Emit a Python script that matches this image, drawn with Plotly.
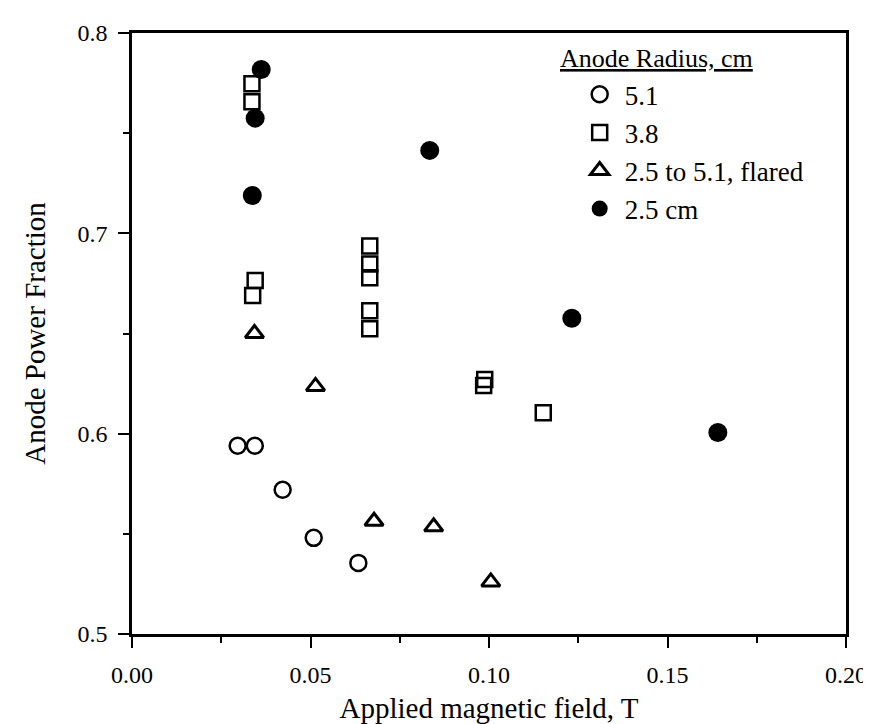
import plotly.graph_objects as go

# Anode radius 5.1 cm (open circles)
x_51 = [0.0296, 0.0344, 0.0422, 0.0509, 0.0634]
y_51 = [0.594, 0.594, 0.572, 0.548, 0.5355]

# Anode radius 3.8 cm (open squares)
x_38 = [0.0336, 0.0336, 0.0345, 0.0338, 0.0666, 0.0666, 0.0666, 0.0666, 0.0666, 0.0988, 0.0985, 0.1152]
y_38 = [0.7747, 0.7657, 0.6765, 0.669, 0.6937, 0.6847, 0.6778, 0.6614, 0.6524, 0.627, 0.624, 0.6105]

# 2.5 to 5.1 cm, flared (open triangles)
x_fl = [0.0343, 0.0514, 0.0678, 0.0845, 0.1005]
y_fl = [0.650, 0.6236, 0.5563, 0.5535, 0.526]

# 2.5 cm (filled circles)
x_25 = [0.0362, 0.0345, 0.0337, 0.0834, 0.1232, 0.1641]
y_25 = [0.7818, 0.7575, 0.7189, 0.7414, 0.6576, 0.6006]

x_ticks = [0.00, 0.05, 0.10, 0.15, 0.20]
x_labels = ["0.00", "0.05", "0.10", "0.15", "0.20"]
y_ticks = [0.5, 0.6, 0.7, 0.8]
y_labels = ["0.5", "0.6", "0.7", "0.8"]

FONT = "Liberation Serif"
line = dict(color="black", width=2.5)

fig = go.Figure()
fig.add_trace(go.Scatter(x=x_51, y=y_51, mode="markers", name="5.1",
                         marker=dict(symbol="circle-open", size=16, line=line, color="black")))
fig.add_trace(go.Scatter(x=x_38, y=y_38, mode="markers", name="3.8",
                         marker=dict(symbol="square-open", size=15, line=line, color="black")))
fig.add_trace(go.Scatter(x=x_fl, y=y_fl, mode="markers", name="2.5 to 5.1, flared",
                         marker=dict(symbol="triangle-up-open", size=16, line=dict(color="black", width=3), color="black")))
fig.add_trace(go.Scatter(x=x_25, y=y_25, mode="markers", name="2.5 cm",
                         marker=dict(symbol="circle", size=19, color="black")))

axis_common = dict(showgrid=False, zeroline=False, showline=True, linecolor="black",
                   linewidth=2.5, mirror=True, ticks="outside", tickcolor="black",
                   tickwidth=2, ticklen=11,
                   tickfont=dict(family=FONT, size=24, color="black"))

fig.update_xaxes(range=[0, 0.2], tickvals=x_ticks, ticktext=x_labels,
                 minor=dict(dtick=0.025, ticks="outside", ticklen=6, tickwidth=2, tickcolor="black"),
                 ticklabelstandoff=6,
                 title=dict(text="Applied magnetic field, T", font=dict(family=FONT, size=29, color="black"), standoff=12),
                 **axis_common)
fig.update_yaxes(range=[0.5, 0.8], tickvals=y_ticks, ticktext=y_labels,
                 minor=dict(dtick=0.05, ticks="outside", ticklen=6, tickwidth=2, tickcolor="black"),
                 ticklabelstandoff=6,
                 title=dict(text="Anode Power Fraction", font=dict(family=FONT, size=29, color="black"), standoff=24),
                 **axis_common)

fig.add_annotation(x=0.597, y=0.957, xref="paper", yref="paper", xanchor="left", yanchor="middle",
                   text="<u>Anode Radius, cm</u>", showarrow=False,
                   font=dict(family=FONT, size=26, color="black"))

fig.update_layout(
    width=871, height=724,
    margin=dict(l=124, r=22, t=17, b=98),
    plot_bgcolor="white", paper_bgcolor="white",
    font=dict(family=FONT, color="black"),
    legend=dict(x=0.62, y=0.938, xanchor="left", yanchor="top",
                font=dict(family=FONT, size=27, color="black"), bgcolor="rgba(0,0,0,0)",
                tracegroupgap=0, itemsizing="trace", itemwidth=40),
)

fig.write_html("out.html")
